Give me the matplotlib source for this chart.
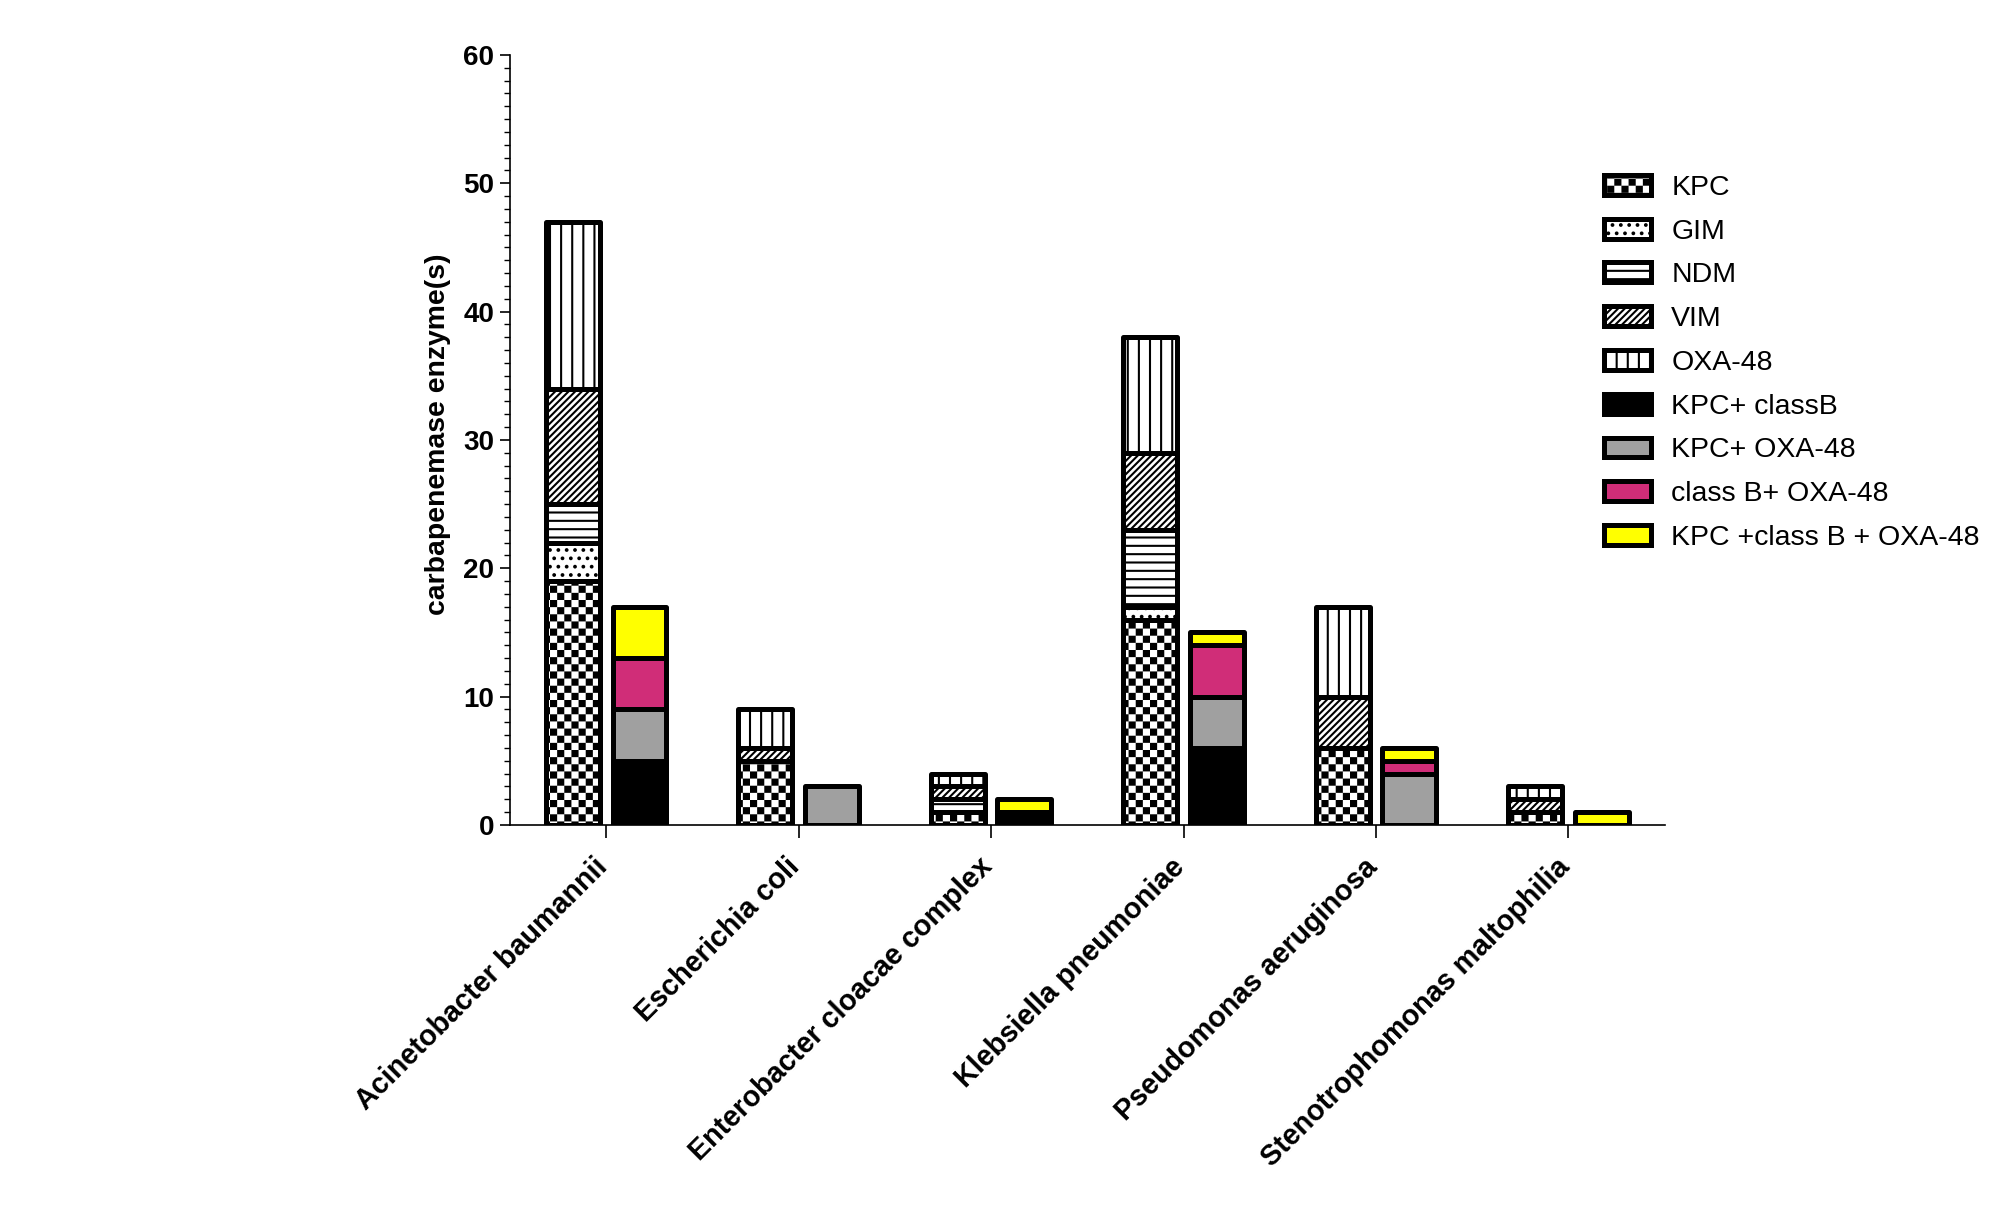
import numpy as np
import matplotlib
matplotlib.use('Agg')
import matplotlib.pyplot as plt
import matplotlib.hatch as mhatch
import matplotlib.transforms as mtransforms
from matplotlib.path import Path
from matplotlib.patches import Patch
from matplotlib.ticker import MultipleLocator

# ---------------- data ----------------
categories = ['Acinetobacter baumannii', 'Escherichia coli',
              'Enterobacter cloacae complex', 'Klebsiella pneumoniae',
              'Pseudomonas aeruginosa', 'Stenotrophomonas maltophilia']

kpc = [19, 5, 1, 16, 6, 1]
gim = [3, 0, 0, 1, 0, 0]
ndm = [3, 0, 1, 6, 0, 0]
vim = [9, 1, 1, 6, 4, 1]
oxa48 = [13, 3, 1, 9, 7, 1]

kpc_classb = [5, 0, 1, 6, 0, 0]
kpc_oxa48 = [4, 3, 0, 4, 4, 0]
classb_oxa48 = [4, 0, 0, 4, 1, 0]
kpc_classb_oxa48 = [4, 0, 1, 1, 1, 1]

series_labels = ['KPC', 'GIM', 'NDM', 'VIM', 'OXA-48', 'KPC+ classB',
                 'KPC+ OXA-48', 'class B+ OXA-48', 'KPC +class B + OXA-48']
yticks = [0, 10, 20, 30, 40, 50, 60]

# ---------------- custom hatches ----------------
DPI = 100
HATCH_LW = 1.5
plt.rcParams['hatch.linewidth'] = HATCH_LW


class VLines(mhatch.HatchPatternBase):
    def __init__(self, hatch, density):
        self.num_lines = hatch.count('|') * 9
        self.num_vertices = self.num_lines * 2

    def set_vertices_and_codes(self, vertices, codes):
        steps, stepsize = np.linspace(0.0, 1.0, self.num_lines, False, retstep=True)
        steps += stepsize / 2.
        vertices[0::2, 0] = steps
        vertices[0::2, 1] = 0.0
        vertices[1::2, 0] = steps
        vertices[1::2, 1] = 1.0
        codes[0::2] = Path.MOVETO
        codes[1::2] = Path.LINETO


class Checker(mhatch.HatchPatternBase):
    filled = True

    def __init__(self, hatch, density):
        self.n = 14 * hatch.count('*')
        self.num_vertices = (self.n * self.n // 2) * 5

    def set_vertices_and_codes(self, vertices, codes):
        n = self.n
        s = 1.0 / n
        m = (HATCH_LW / 72.0 * DPI / 2.0) / DPI
        k = 0
        for i in range(n):
            for j in range(n):
                if (i + j) % 2 == 0:
                    x0, y0 = i * s + m, j * s + m
                    x1, y1 = (i + 1) * s - m, (j + 1) * s - m
                    vertices[k:k + 5] = [(x0, y0), (x1, y0), (x1, y1), (x0, y1), (x0, y0)]
                    codes[k:k + 5] = [Path.MOVETO, Path.LINETO, Path.LINETO,
                                      Path.LINETO, Path.CLOSEPOLY]
                    k += 5


mhatch._hatch_types = [mhatch.HorizontalHatch, VLines, mhatch.NorthEastHatch,
                       mhatch.SouthEastHatch, mhatch.SmallCircles,
                       mhatch.LargeCircles, mhatch.SmallFilledCircles, Checker]

# ---------------- styles ----------------
plt.rcParams['font.family'] = ['Liberation Sans', 'DejaVu Sans']

styles = [
    dict(facecolor='white', hatch='*'),       # KPC checker
    dict(facecolor='white', hatch='..'),      # GIM dots
    dict(facecolor='white', hatch='--'),      # NDM horizontal
    dict(facecolor='white', hatch='/////'),   # VIM diagonal
    dict(facecolor='white', hatch='|'),       # OXA-48 vertical
    dict(facecolor='black', hatch=None),
    dict(facecolor='#a0a0a0', hatch=None),
    dict(facecolor='#d02d78', hatch=None),
    dict(facecolor='#ffff00', hatch=None),
]
EDGE_LW = 3.6

fig = plt.figure(figsize=(20.08, 12.05), dpi=DPI)
ax = fig.add_axes([0.254, 0.3154, 0.575, 0.639])

x = np.arange(len(categories))
bw = 0.28
off = 0.173

single = [kpc, gim, ndm, vim, oxa48]
combo = [kpc_classb, kpc_oxa48, classb_oxa48, kpc_classb_oxa48]


def draw_stack(data_list, style_list, xpos):
    bottom = np.zeros(len(categories))
    for vals, st in zip(data_list, style_list):
        vals = np.array(vals, dtype=float)
        mask = vals > 0
        ax.bar(xpos[mask], vals[mask], bw, bottom=bottom[mask],
               facecolor=st['facecolor'], hatch=st['hatch'], edgecolor='black',
               linewidth=EDGE_LW, joinstyle='round', zorder=3)
        bottom += vals


draw_stack(single, styles[:5], x - off)
draw_stack(combo, styles[5:], x + off)

ax.set_xlim(-0.5, 5.5)
ax.set_ylim(0, 60)
ax.set_yticks(yticks)
ax.yaxis.set_minor_locator(MultipleLocator(1))
ax.set_xticks(x)

for s in ['top', 'right']:
    ax.spines[s].set_visible(False)
for s in ['left', 'bottom']:
    ax.spines[s].set_linewidth(1.2)

ax.tick_params(axis='y', which='major', length=7.5, width=1.2, pad=4)
ax.tick_params(axis='y', which='minor', length=4.5, width=1.0)
ax.tick_params(axis='x', which='major', length=9, width=1.2, pad=11)

ax.set_xticklabels(categories, rotation=45, ha='right', va='top',
                   rotation_mode='anchor', fontsize=20.7, fontweight='bold')
shift = mtransforms.ScaledTranslation(-13 / DPI, 0, fig.dpi_scale_trans)
for lbl in ax.get_xticklabels():
    lbl.set_transform(lbl.get_transform() + shift)
for lbl in ax.get_yticklabels():
    lbl.set_fontweight('bold')
    lbl.set_fontsize(20)

ax.set_ylabel('carbapenemase enzyme(s)', fontsize=20.4, fontweight='bold')
ax.yaxis.set_label_coords(-0.051, 0.508)

handles = [Patch(facecolor=st['facecolor'], hatch=st['hatch'], edgecolor='black',
                 linewidth=EDGE_LW, joinstyle='round', label=lab)
           for st, lab in zip(styles, series_labels)]
fig.legend(handles=handles, loc='upper left', bbox_to_anchor=(0.799, 0.855),
           frameon=False, borderpad=0, borderaxespad=0, handlelength=1.65,
           handleheight=0.7, handletextpad=0.7, labelspacing=0.625,
           fontsize=20.5)

fig.savefig('out.png', dpi=DPI)
